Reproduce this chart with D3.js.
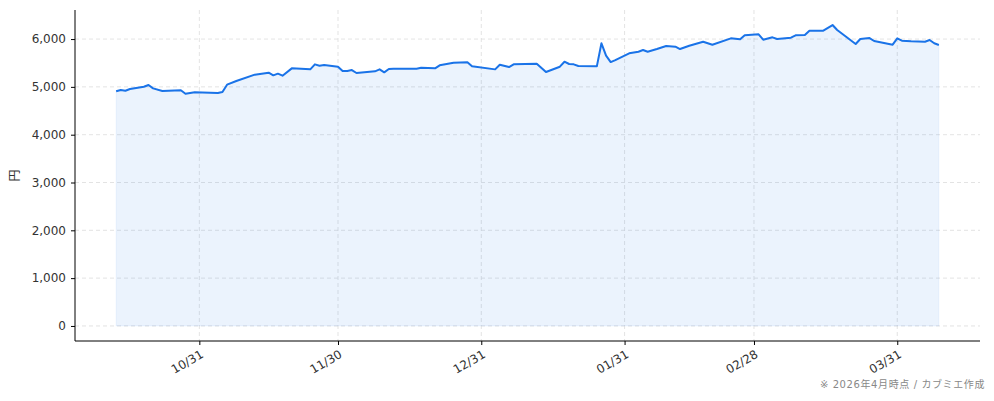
<!DOCTYPE html>
<html><head><meta charset="utf-8">
<script src="https://cdn.jsdelivr.net/npm/d3@7"></script>
<style>body{margin:0;background:#fff}svg{display:block}</style>
</head><body><svg id="c" width="994" height="401"></svg>
<script>
const dates = ["2025-10-13","2025-10-14","2025-10-15","2025-10-16","2025-10-19","2025-10-20","2025-10-21","2025-10-23","2025-10-27","2025-10-28","2025-10-30",
"2025-11-04","2025-11-05","2025-11-06","2025-11-08","2025-11-12","2025-11-15","2025-11-16","2025-11-17","2025-11-18","2025-11-20","2025-11-24","2025-11-25","2025-11-26","2025-11-27","2025-11-30",
"2025-12-01","2025-12-02","2025-12-03","2025-12-04","2025-12-08","2025-12-09","2025-12-10","2025-12-11","2025-12-12","2025-12-17","2025-12-18","2025-12-21","2025-12-22","2025-12-25","2025-12-28","2025-12-29",
"2026-01-03","2026-01-04","2026-01-06","2026-01-07","2026-01-12","2026-01-14","2026-01-17","2026-01-18","2026-01-19","2026-01-20","2026-01-21","2026-01-25","2026-01-26","2026-01-27","2026-01-28","2026-01-29",
"2026-02-01","2026-02-03","2026-02-04","2026-02-05","2026-02-07","2026-02-09","2026-02-11","2026-02-12","2026-02-14","2026-02-17","2026-02-19","2026-02-23","2026-02-25","2026-02-26",
"2026-03-01","2026-03-02","2026-03-04","2026-03-05","2026-03-08","2026-03-09","2026-03-11","2026-03-12","2026-03-15","2026-03-17","2026-03-18","2026-03-22","2026-03-23","2026-03-25","2026-03-26","2026-03-30","2026-03-31",
"2026-04-01","2026-04-03","2026-04-06","2026-04-07","2026-04-08","2026-04-09"];
const values = [4907,4934,4920,4955,5003,5039,4969,4913,4928,4857,4886,
4871,4892,5046,5122,5255,5297,5241,5276,5234,5387,5366,5471,5443,5455,5422,
5331,5331,5352,5290,5325,5366,5304,5373,5380,5380,5401,5387,5450,5505,5513,5429,
5366,5463,5415,5471,5485,5310,5422,5526,5478,5471,5436,5429,5911,5652,5519,5561,
5701,5735,5771,5735,5791,5854,5840,5791,5861,5945,5882,6015,5994,6078,
6099,5987,6036,6001,6029,6078,6085,6175,6175,6293,6189,5896,6001,6021,5959,5882,6015,
5966,5952,5945,5980,5911,5875];
const yTicks = [0,1000,2000,3000,4000,5000,6000];
const xTickDates = ["2025-10-31","2025-11-30","2025-12-31","2026-01-31","2026-02-28","2026-03-31"];
const xTickLabels = ["10/31","11/30","12/31","01/31","02/28","03/31"];
const yLabel = "円";
const footer = "※ 2026年4月時点 / カブミエ作成";

const parse = d3.utcParse("%Y-%m-%d");
const data = dates.map((d,i)=>({date:parse(d), v:values[i]}));
const L=75,R=980,T=10,B=341;
const svg = d3.select("#c");
const font = "'DejaVu Sans','Noto Sans CJK JP',sans-serif";

const ext = d3.extent(data,d=>d.date);
const span = ext[1]-ext[0];
const x = d3.scaleUtc().domain([new Date(+ext[0]-span*0.05), new Date(+ext[1]+span*0.05)]).range([L,R]);
const vmax = d3.max(values);
const y = d3.scaleLinear().domain([-vmax*0.05, vmax*1.05]).range([B,T]);

// grid
const grid = svg.append("g").attr("stroke","#dcdcdc").attr("stroke-width",0.8).attr("stroke-dasharray","4,3");
grid.selectAll("line.h").data(yTicks).join("line").attr("x1",L).attr("x2",R).attr("y1",d=>y(d)).attr("y2",d=>y(d));
grid.selectAll("line.v").data(xTickDates).join("line").attr("x1",d=>x(parse(d))).attr("x2",d=>x(parse(d))).attr("y1",T).attr("y2",B);

// area & line
svg.append("path").datum(data)
  .attr("d", d3.area().x(d=>x(d.date)).y0(y(0)).y1(d=>y(d.v)))
  .attr("fill","#1a73e8").attr("fill-opacity",0.085)
  .attr("stroke","#1a73e8").attr("stroke-opacity",0.06).attr("stroke-width",1);
svg.append("path").datum(data)
  .attr("d", d3.line().x(d=>x(d.date)).y(d=>y(d.v)))
  .attr("fill","none").attr("stroke","#1a73e8").attr("stroke-width",2).attr("stroke-linejoin","round");

// axes
const yAx = svg.append("g").attr("transform",`translate(${L},0)`)
  .call(d3.axisLeft(y).tickValues(yTicks).tickSize(4).tickPadding(5).tickFormat(d3.format(",")));
yAx.select(".domain").attr("d",`M0,${T}V${B}`).attr("stroke","#000");
yAx.selectAll("text").attr("font-family",font).attr("font-size",12).attr("fill","#333");

const xAx = svg.append("g").attr("transform",`translate(0,${B})`)
  .call(d3.axisBottom(x).tickValues(xTickDates.map(parse)).tickSize(4).tickFormat((d,i)=>xTickLabels[i]));
xAx.select(".domain").attr("d",`M${L},0H${R}`).attr("stroke","#000");
xAx.selectAll("text").attr("font-family",font).attr("font-size",12).attr("fill","#333")
  .attr("text-anchor","end").attr("y",0).attr("dy","0.75em")
  .attr("transform","translate(0,8) rotate(-30)");

svg.append("text").attr("transform",`translate(19,${(T+B)/2}) rotate(-90)`)
  .attr("text-anchor","middle").attr("font-family",font).attr("font-size",12).attr("fill","#333").text(yLabel);

svg.append("text").attr("x",985).attr("y",388).attr("text-anchor","end")
  .attr("font-family",font).attr("font-size",10).attr("fill","#888").attr("letter-spacing",0.6).text(footer);
</script></body></html>
